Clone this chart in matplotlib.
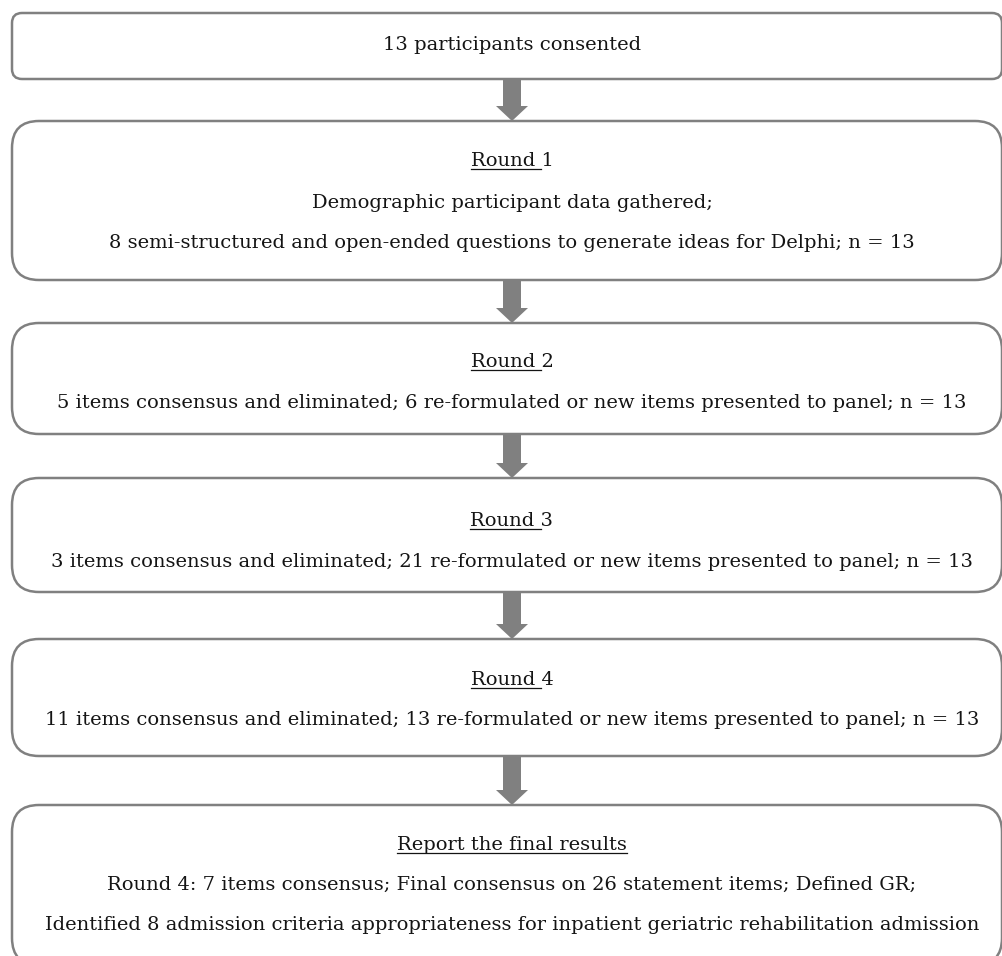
import matplotlib
matplotlib.use('Agg')
import matplotlib.pyplot as plt
from matplotlib.patches import FancyBboxPatch
from matplotlib.lines import Line2D

plt.rcParams['font.family'] = 'DejaVu Serif'

# Text content of the flow chart, one list per box
box_texts = [
    ["13 participants consented"],
    ["Round 1",
     "Demographic participant data gathered;",
     "8 semi-structured and open-ended questions to generate ideas for Delphi; n = 13"],
    ["Round 2",
     "5 items consensus and eliminated; 6 re-formulated or new items presented to panel; n = 13"],
    ["Round 3",
     "3 items consensus and eliminated; 21 re-formulated or new items presented to panel; n = 13"],
    ["Round 4",
     "11 items consensus and eliminated; 13 re-formulated or new items presented to panel; n = 13"],
    ["Report the final results",
     "Round 4: 7 items consensus; Final consensus on 26 statement items; Defined GR;",
     "Identified 8 admission criteria appropriateness for inpatient geriatric rehabilitation admission"],
]
# part of the first line that is underlined (None = nothing)
underlined = [None, "Round ", "Round ", "Round ", "Round ", "Report the final results"]

# layout in pixels (top-down)
W, H = 1003, 956
box_top = [13, 121, 323, 478, 639, 805]
box_bot = [79, 280, 434, 592, 756, 965]
box_rad = [10, 27, 27, 27, 27, 27]
line_y = [[45], [161, 203, 243], [362, 403], [521, 562], [680, 720], [845, 885, 925]]
x_left, x_right = 12, 1002
xc = 512

edge = '#808080'
txt_col = '#141414'
fs = 14

fig = plt.figure(figsize=(W / 100, H / 100), dpi=100)
ax = fig.add_axes([0, 0, 1, 1])
ax.set_xlim(0, W)
ax.set_ylim(H, 0)
ax.axis('off')

# arrows between boxes
for i in range(len(box_top) - 1):
    y0 = box_bot[i]
    y1 = box_top[i + 1]
    ax.arrow(xc, y0, 0, y1 - y0, width=18, head_width=32, head_length=15,
             length_includes_head=True, color=edge, lw=0, zorder=1)

renderer = fig.canvas.get_renderer()

for i, lines in enumerate(box_texts):
    r = box_rad[i]
    box = FancyBboxPatch((x_left, box_top[i]), x_right - x_left, box_bot[i] - box_top[i],
                         boxstyle=f"round,pad=0,rounding_size={r}",
                         fc='white', ec=edge, lw=1.8, zorder=2)
    ax.add_patch(box)
    for j, line in enumerate(lines):
        t = ax.text(xc, line_y[i][j], line, ha='center', va='center',
                    fontsize=fs, color=txt_col, zorder=3)
        if j == 0 and underlined[i]:
            bb = t.get_window_extent(renderer)
            part = underlined[i]
            if part.endswith(" "):
                part = part.rstrip() + "\u00a0"
            tmp = ax.text(0, 0, part, fontsize=fs)
            wb = tmp.get_window_extent(renderer)
            tmp.remove()
            x0 = bb.x0
            x1 = bb.x0 + wb.width
            yb = H - bb.y0 - 1  # display y to top-down pixel
            ax.add_line(Line2D([x0, x1], [yb, yb], color=txt_col, lw=0.9, zorder=3))

fig.savefig('out.png', dpi=100)
